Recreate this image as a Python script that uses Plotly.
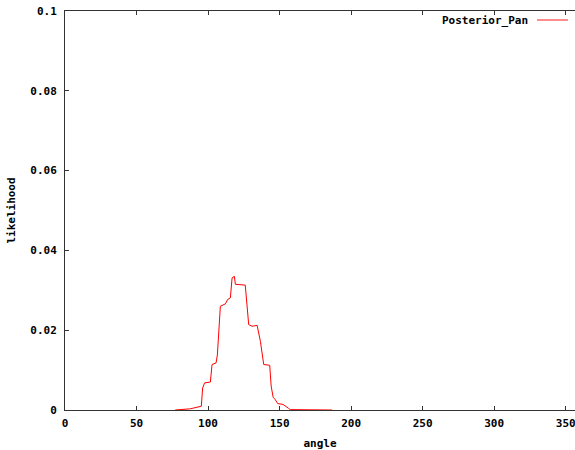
import plotly.graph_objects as go

# Data
angle = [77, 87.6, 95.3, 96.2, 97.6, 101.6, 102.8, 105.6, 106.5, 108.6, 112.1, 113.7,
         115.6, 116.8, 118.4, 119.1, 126.0, 128.4, 130.8, 134.3, 136.6, 138.9, 143.1,
         144.1, 145.5, 147.0, 148.7, 152.4, 156.3, 157.5, 186.8]
likelihood = [0.0, 0.0003, 0.00095, 0.0055, 0.0068, 0.0070, 0.0114, 0.0118, 0.0138, 0.026,
              0.0266, 0.0277, 0.0281, 0.0331, 0.0335, 0.0315, 0.0313, 0.0214, 0.0210,
              0.0212, 0.0172, 0.0114, 0.0112, 0.0060, 0.0032, 0.0026, 0.0016, 0.0014,
              0.0004, 0.0001, 0.0]

x_ticks = [0, 50, 100, 150, 200, 250, 300, 350]
y_ticks = [0, 0.02, 0.04, 0.06, 0.08, 0.1]
y_tick_labels = ["0", "0.02", "0.04", "0.06", "0.08", "0.1"]
series_name = "Posterior_Pan"

FONT = dict(family="DejaVu Sans Mono", size=11, color="#000000", weight="bold")
AXC = "#333333"

fig = go.Figure()
fig.add_trace(go.Scatter(x=angle, y=likelihood, mode="lines", name=series_name,
                         line=dict(color="#ff0000", width=1), showlegend=False,
                         hoverinfo="skip"))

fig.update_layout(
    width=575, height=450,
    margin=dict(l=65, r=0, t=11, b=40),
    paper_bgcolor="white", plot_bgcolor="white",
    font=FONT,
    xaxis=dict(range=[0, 356.5], tickvals=x_ticks, ticks="inside", ticklen=4,
               tickcolor=AXC, showline=True, linecolor=AXC, linewidth=1,
               mirror="ticks", showgrid=False, zeroline=False, automargin=False,
               ticklabeloverflow="allow", ticklabelstandoff=3,
               tickfont=FONT,
               title=dict(text="angle", standoff=10, font=FONT)),
    yaxis=dict(range=[0, 0.1], tickvals=y_ticks, ticktext=y_tick_labels,
               ticks="inside", ticklen=4, tickcolor=AXC, showline=True,
               linecolor=AXC, linewidth=1, mirror=False, showgrid=False,
               zeroline=False, automargin=False, ticklabelstandoff=5,
               tickfont=FONT,
               title=dict(text="likelihood", standoff=12, font=FONT)),
)

fig.add_annotation(xref="paper", yref="paper", x=(530 - 65) / 510, y=(410 - 20) / 399,
                   xanchor="right", yanchor="middle", showarrow=False,
                   text=series_name, font=FONT)
fig.add_shape(type="line", xref="paper", yref="paper",
              x0=(537 - 65) / 510, x1=(568 - 65) / 510,
              y0=(410 - 20) / 399, y1=(410 - 20) / 399,
              line=dict(color="#ff6666", width=1.5))

fig.write_html("out.html", config={"displayModeBar": False},
               post_script="document.body.style.margin='0';document.body.style.overflow='hidden';")
